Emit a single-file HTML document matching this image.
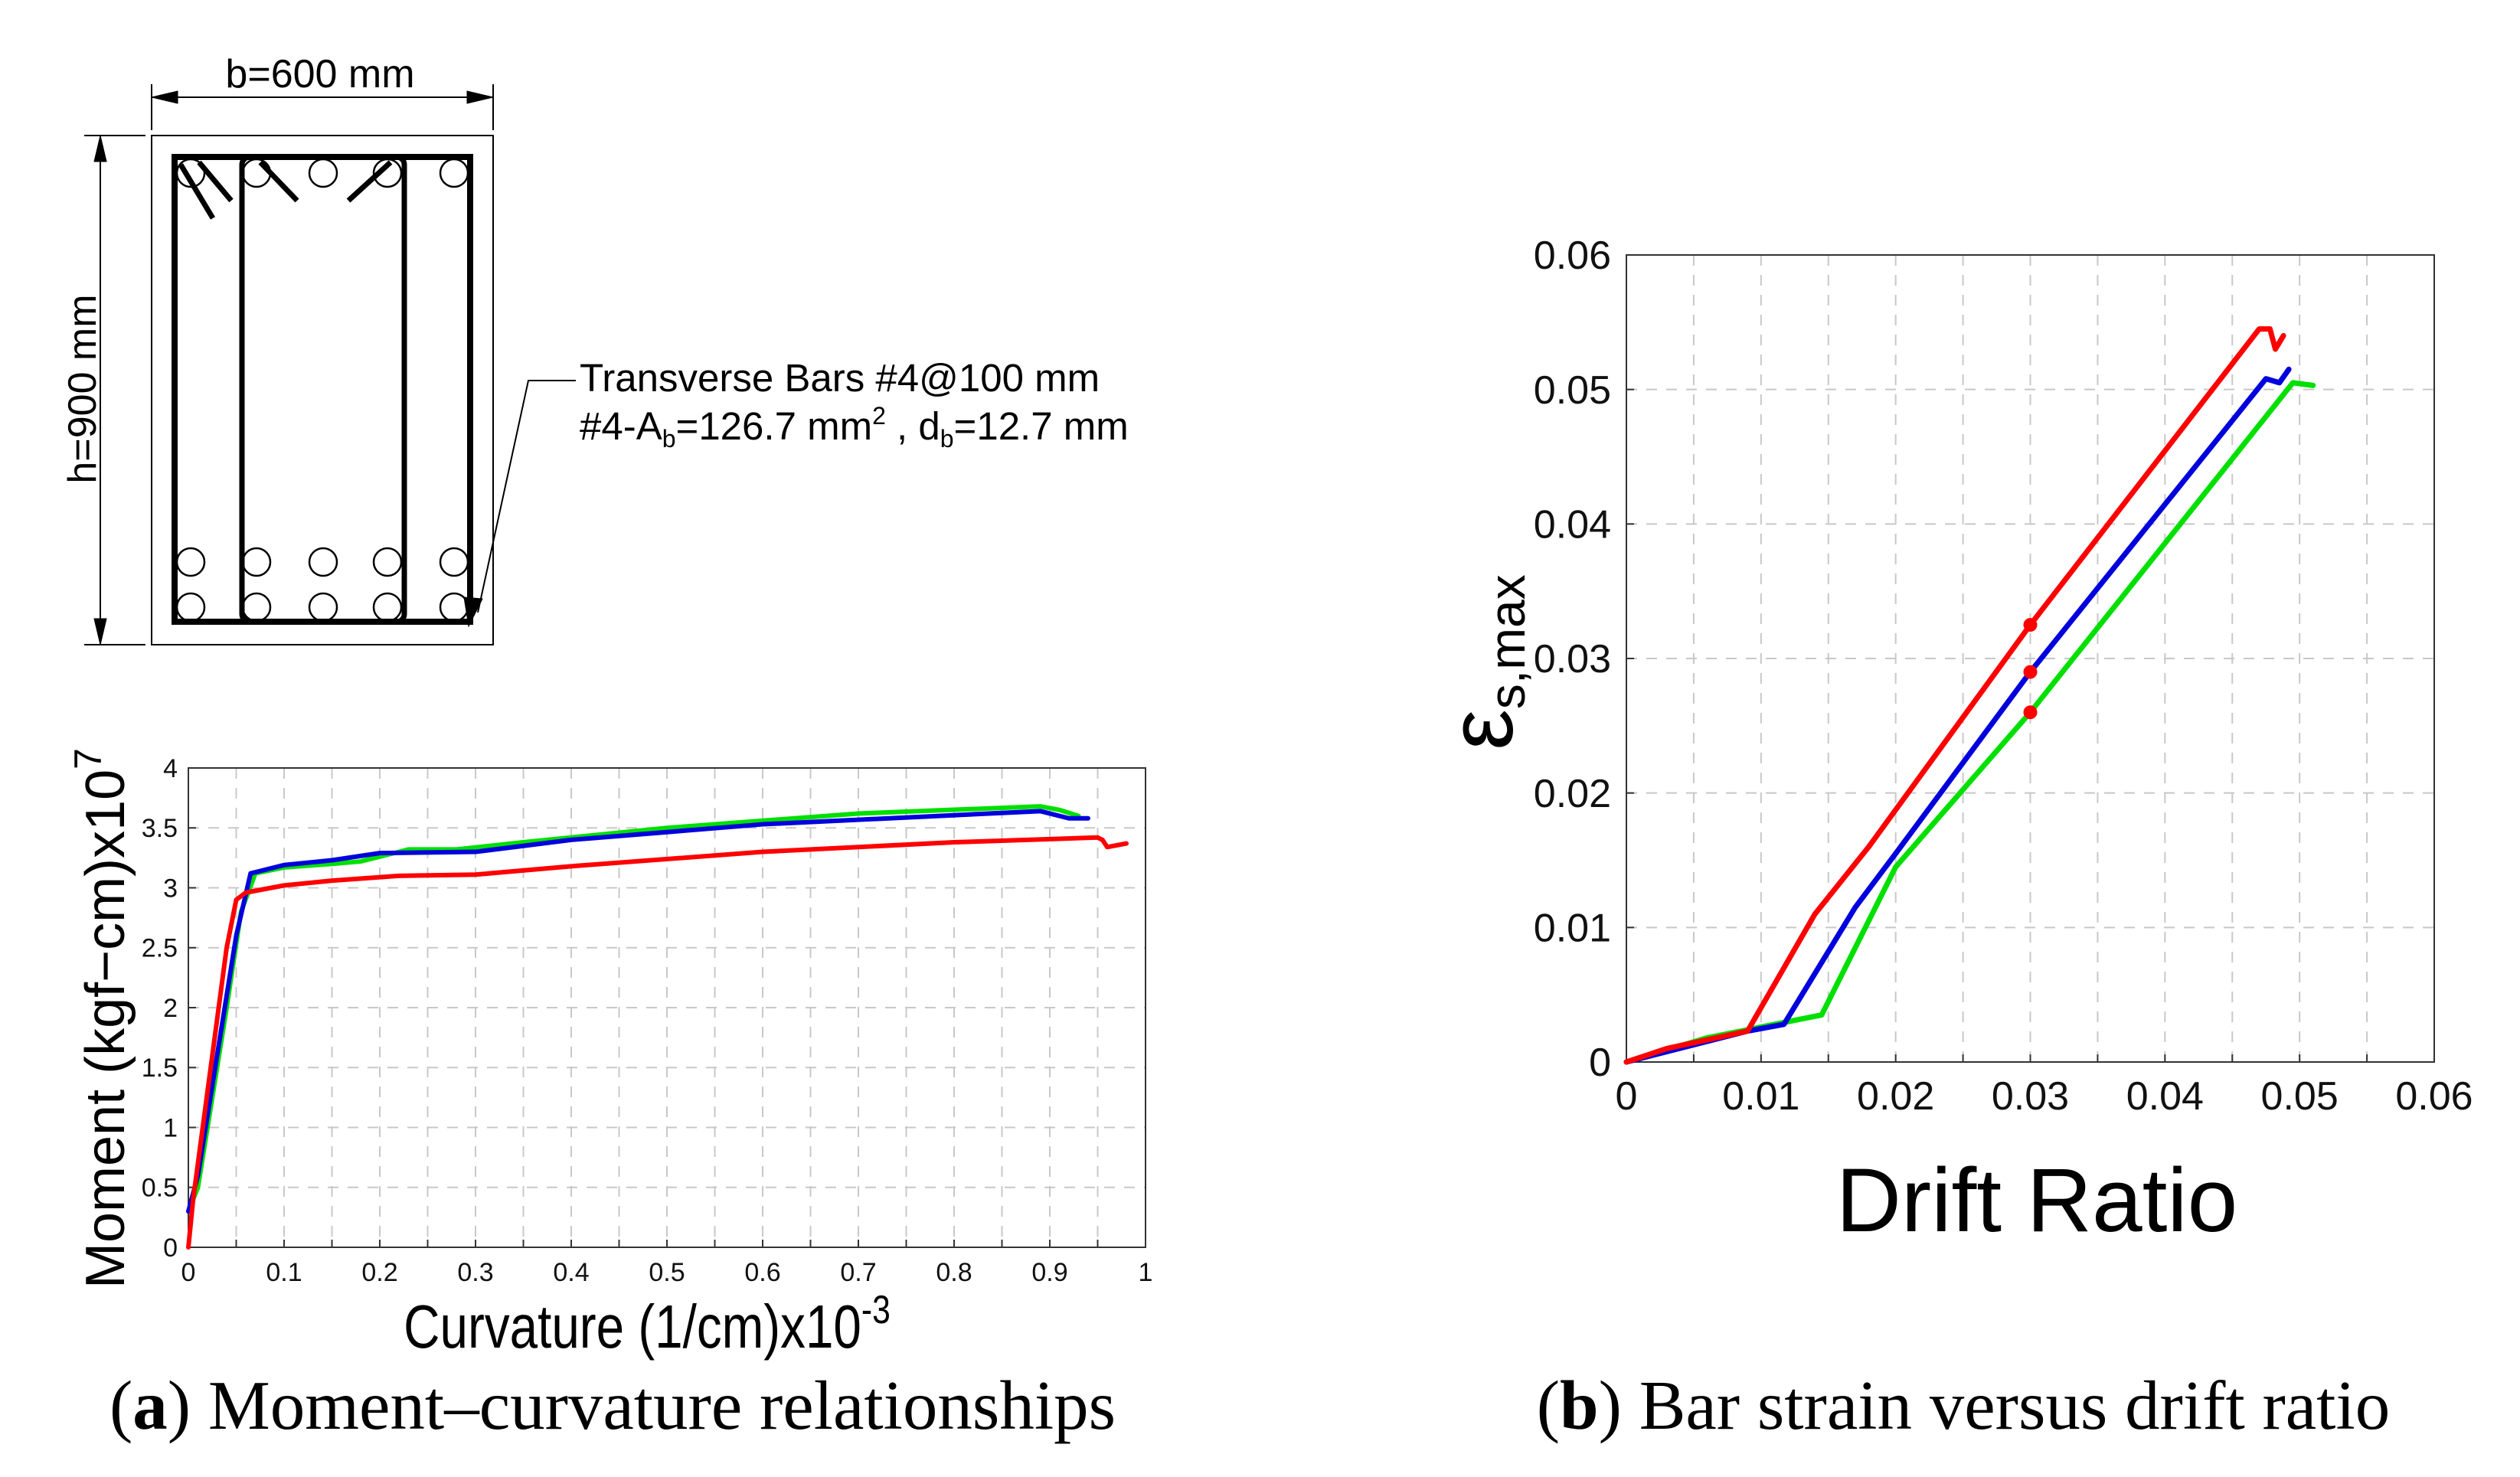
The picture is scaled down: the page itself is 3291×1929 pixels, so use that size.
<!DOCTYPE html>
<html><head><meta charset="utf-8"><style>
html,body{margin:0;padding:0;background:#fff;}
svg{display:block;}
text{font-family:"Liberation Sans",sans-serif;}
</style></head><body>
<svg id="s" width="3291" height="1929" viewBox="0 0 3291 1929" xmlns="http://www.w3.org/2000/svg">
<g id="section" stroke="#000" fill="none">
  <line x1="198" y1="127" x2="644" y2="127" stroke-width="2"/>
  <polygon points="198,127 232,119 232,135" fill="#000"/>
  <polygon points="644,127 610,119 610,135" fill="#000"/>
  <line x1="198" y1="110" x2="198" y2="170" stroke-width="2"/>
  <line x1="644" y1="110" x2="644" y2="170" stroke-width="2"/>
  <line x1="110" y1="177" x2="190" y2="177" stroke-width="2"/>
  <line x1="110" y1="842" x2="190" y2="842" stroke-width="2"/>
  <line x1="131" y1="177" x2="131" y2="842" stroke-width="2"/>
  <polygon points="131,177 123,211 139,211" fill="#000"/>
  <polygon points="131,842 123,808 139,808" fill="#000"/>
  <rect x="198" y="177" width="446" height="665" stroke-width="2"/>
  <rect x="228" y="205" width="386" height="607" stroke-width="8"/>
  <rect x="316" y="205" width="212" height="607" rx="10" stroke-width="7"/>
  <line x1="236" y1="215" x2="278" y2="285" stroke-width="7"/>
  <line x1="260" y1="212" x2="302" y2="262" stroke-width="7"/>
  <line x1="340" y1="212" x2="388" y2="262" stroke-width="7"/>
  <line x1="510" y1="212" x2="455" y2="262" stroke-width="7"/>
  <g stroke-width="2.5" id="bars"></g>
  <polyline points="752,497 690,497 624,800" stroke-width="2"/>
  <polygon points="612,818 606,780 630,782" fill="#000"/>
</g>
<text x="418" y="114" font-size="52" text-anchor="middle">b=600 mm</text>
<text transform="translate(125,508) rotate(-90)" font-size="52" text-anchor="middle">h=900 mm</text>
<text x="757" y="511" font-size="51">Transverse Bars #4@100 mm</text>
<text x="757" y="574" font-size="51">#4-A<tspan font-size="32" dy="10">b</tspan><tspan dy="-10">=126.7 mm</tspan><tspan font-size="32" dy="-20">2</tspan><tspan dy="20"> , d</tspan><tspan font-size="32" dy="10">b</tspan><tspan dy="-10">=12.7 mm</tspan></text>
<g id="chartA"></g>
<g id="chartB"></g>
<text x="800" y="1866" font-size="91" text-anchor="middle" style="font-family:'Liberation Serif',serif">(<tspan font-weight="bold">a</tspan>) Moment–curvature relationships</text>
<text x="2564" y="1866" font-size="91" text-anchor="middle" style="font-family:'Liberation Serif',serif">(<tspan font-weight="bold">b</tspan>) Bar strain versus drift ratio</text>
</svg>
<script>
// Chart A data
const aXTicks=[0,0.1,0.2,0.3,0.4,0.5,0.6,0.7,0.8,0.9,1];
const aYTicks=[0,0.5,1,1.5,2,2.5,3,3.5,4];
const aGreenX=[0,0.01,0.04,0.055,0.07,0.1,0.15,0.18,0.23,0.28,0.35,0.5,0.7,0.89,0.91,0.93];
const aGreenY=[0.3,0.5,2.0,2.8,3.12,3.17,3.2,3.22,3.32,3.32,3.38,3.5,3.62,3.68,3.65,3.6];
const aBlueX=[0,0.01,0.05,0.065,0.1,0.15,0.2,0.3,0.4,0.6,0.89,0.92,0.94];
const aBlueY=[0.3,0.6,2.6,3.12,3.19,3.23,3.29,3.3,3.4,3.53,3.64,3.58,3.58];
const aRedX=[0,0.005,0.04,0.05,0.06,0.1,0.15,0.22,0.3,0.4,0.6,0.8,0.95,0.955,0.96,0.98];
const aRedY=[0,0.4,2.5,2.9,2.96,3.02,3.06,3.1,3.11,3.18,3.3,3.38,3.42,3.4,3.34,3.37];
// Chart B data
const bXTicks=[0,0.01,0.02,0.03,0.04,0.05,0.06];
const bYTicks=[0,0.01,0.02,0.03,0.04,0.05,0.06];
const bRedX=[0,0.003,0.009,0.014,0.018,0.03,0.047,0.0478,0.0482,0.0488];
const bRedY=[0,0.001,0.0023,0.011,0.016,0.0325,0.0545,0.0545,0.053,0.054];
const bBlueX=[0,0.009,0.0117,0.017,0.02,0.03,0.0475,0.0485,0.0492];
const bBlueY=[0,0.0023,0.0028,0.0115,0.0155,0.029,0.0508,0.0505,0.0515];
const bGreenX=[0,0.006,0.01,0.0145,0.02,0.03,0.0495,0.051];
const bGreenY=[0,0.0018,0.0026,0.0035,0.0145,0.026,0.0505,0.0503];
const bDotX=[0.03,0.03,0.03];
const bDotY=[0.0325,0.029,0.026];

const NS="http://www.w3.org/2000/svg";
function mk(parent,tag,attrs,txt){const e=document.createElementNS(NS,tag);for(const k in attrs)e.setAttribute(k,attrs[k]);if(txt!==undefined)e.textContent=txt;parent.appendChild(e);return e;}

const bars=document.getElementById('bars');
[249,335,422,506,593].forEach(cx=>{[226,734,793].forEach(cy=>{
  const c=mk(bars,'circle',{cx:cx,cy:cy,r:18});
  
  
});});

function chart(g,o){
  const sx=v=>o.L+(v-o.x0)/(o.x1-o.x0)*(o.R-o.L);
  const sy=v=>o.B-(v-o.y0)/(o.y1-o.y0)*(o.B-o.T);
  o.gx.forEach(v=>{const l=mk(g,'line',{x1:sx(v),x2:sx(v),y1:o.T,y2:o.B,stroke:'#c8c8c8','stroke-width':2,'stroke-dasharray':'14,12'});
    
    });
  o.gy.forEach(v=>{const l=mk(g,'line',{x1:o.L,x2:o.R,y1:sy(v),y2:sy(v),stroke:'#c8c8c8','stroke-width':2,'stroke-dasharray':'14,12'});
    
    });
  const fr=mk(g,'rect',{x:o.L,y:o.T,width:o.R-o.L,height:o.B-o.T,fill:'none',stroke:'#333','stroke-width':2});
  
  
  o.gx.forEach(v=>mk(g,'line',{x1:sx(v),x2:sx(v),y1:o.B,y2:o.B-10,stroke:'#333','stroke-width':2}));
  o.gy.forEach(v=>mk(g,'line',{x1:o.L,x2:o.L+10,y1:sy(v),y2:sy(v),stroke:'#333','stroke-width':2}));
  o.xt.forEach(v=>{const t=mk(g,'text',{x:sx(v),y:o.B+o.xdy,'font-size':o.fs,'text-anchor':'middle',fill:'#111'},o.fmt(v));
    
    });
  o.yt.forEach(v=>{const t=mk(g,'text',{x:o.L-o.ydx,y:sy(v)+o.fs*0.35,'font-size':o.fs,'text-anchor':'end',fill:'#111'},o.fmt(v));
    
    });
  o.series.forEach(s=>{
    const p=mk(g,'polyline',{points:s.x.map((v,i)=>sx(v)+','+sy(s.y[i])).join(' '),fill:'none',stroke:s.c,'stroke-width':o.lw,'stroke-linejoin':'round','stroke-linecap':'round'});
    
    
  });
  return {sx,sy};
}
const A=chart(document.getElementById('chartA'),{L:246,R:1496,T:1003,B:1629,x0:0,x1:1,y0:0,y1:4,
  gx:[0.05,0.1,0.15,0.2,0.25,0.3,0.35,0.4,0.45,0.5,0.55,0.6,0.65,0.7,0.75,0.8,0.85,0.9,0.95],gy:[0.5,1,1.5,2,2.5,3,3.5],
  xt:aXTicks,yt:aYTicks,fs:34,xdy:44,ydx:14,lw:6,fmt:v=>String(v),
  series:[{x:aGreenX,y:aGreenY,c:'#00e000',n:'series-green'},{x:aBlueX,y:aBlueY,c:'#0000dd',n:'series-blue'},{x:aRedX,y:aRedY,c:'#ff0000',n:'series-red'}]});
const B=chart(document.getElementById('chartB'),{L:2124,R:3179,T:333,B:1387,x0:0,x1:0.06,y0:0,y1:0.06,
  gx:[0.005,0.01,0.015,0.02,0.025,0.03,0.035,0.04,0.045,0.05,0.055],gy:[0.01,0.02,0.03,0.04,0.05],
  xt:bXTicks,yt:bYTicks,fs:52,xdy:62,ydx:20,lw:7,fmt:v=>v===0?'0':v.toFixed(2),
  series:[{x:bGreenX,y:bGreenY,c:'#00e000',n:'series-green'},{x:bBlueX,y:bBlueY,c:'#0000dd',n:'series-blue'},{x:bRedX,y:bRedY,c:'#ff0000',n:'series-red'}]});
const gb=document.getElementById('chartB');
bDotX.forEach((v,i)=>{const c=mk(gb,'circle',{cx:B.sx(v),cy:B.sy(bDotY[i]),r:9,fill:'#ff0000'});
  
  });
const ga=document.getElementById('chartA');
let t=mk(ga,'text',{x:845,y:1760,'font-size':80,'text-anchor':'middle',transform:'translate(845,0) scale(0.82,1) translate(-845,0)'});
t.innerHTML='Curvature (1/cm)x10<tspan font-size="52" dy="-32">-3</tspan>';


t=mk(ga,'text',{transform:'translate(162,1330) rotate(-90)','font-size':72,'text-anchor':'middle'});
t.innerHTML='Moment (kgf−cm)x10<tspan font-size="50" dy="-30">7</tspan>';


t=mk(gb,'text',{x:2660,y:1608,'font-size':118,'text-anchor':'middle'},'Drift Ratio');


t=mk(gb,'text',{transform:'translate(1975,865) rotate(-90)','font-size':120,'text-anchor':'middle'});
t.innerHTML='ε<tspan font-size="66" dy="16">s,max</tspan>';


</script>
</body></html>
